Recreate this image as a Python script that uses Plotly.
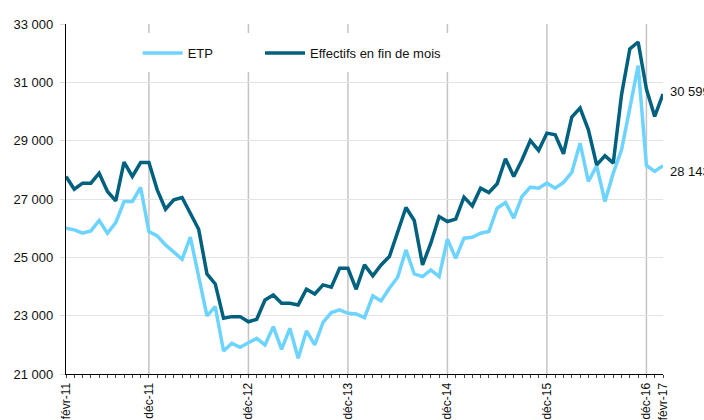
import plotly.graph_objects as go

# Monthly labels from févr-11 to févr-17
mois_fr = ["janv", "févr", "mars", "avr", "mai", "juin", "juil", "août", "sept", "oct", "nov", "déc"]
months = []
for yr in range(11, 18):
    for m in range(12):
        months.append(f"{mois_fr[m]}-{yr:02d}")
months = months[1:1 + 73]  # févr-11 .. févr-17

tick_labels = ["févr-11", "déc-11", "déc-12", "déc-13", "déc-14", "déc-15", "déc-16", "févr-17"]
grid_labels = ["déc-11", "déc-12", "déc-13", "déc-14", "déc-15", "déc-16"]

effectifs = [27772, 27337, 27543, 27543, 27886, 27257, 26937, 28264, 27772, 28250,
             28250, 27314, 26651, 26971, 27051, 26514, 25964, 24431, 24088, 22910,
             22967, 22967, 22790, 22876, 23539, 23711, 23425, 23425, 23368, 23905,
             23745, 24054, 23974, 24626, 24626, 23905, 24740, 24363, 24740, 25026,
             25827, 26708, 26262, 24740, 25484, 26399, 26228, 26308, 27063, 26765,
             27372, 27223, 27520, 28378, 27772, 28344, 29007, 28664, 29259, 29202,
             28550, 29808, 30117, 29374, 28172, 28481, 28230, 30575, 32142, 32382,
             30769, 29831, 30599]

etp = [25999, 25942, 25827, 25907, 26262, 25827, 26193, 26914, 26914, 27394,
       25884, 25736, 25427, 25175, 24935, 25690, 24340, 22990, 23310, 21789,
       22052, 21915, 22070, 22224, 21995, 22624, 21846, 22567, 21537, 22475,
       21995, 22773, 23104, 23196, 23082, 23060, 22933, 23676, 23505, 23940,
       24317, 25255, 24431, 24340, 24569, 24340, 25621, 24969, 25656, 25690,
       25827, 25884, 26685, 26880, 26342, 27086, 27406, 27372, 27543, 27372,
       27566, 27909, 28916, 27600, 28138, 26914, 27886, 28687, 30117, 31570,
       28149, 27944, 28143]

x = list(range(len(months)))
tickvals = [months.index(t) for t in tick_labels]

DARK = "#00617F"
LIGHT = "#6DD3FF"
FONT = "Liberation Sans, Arial, sans-serif"

fig = go.Figure()
fig.add_trace(go.Scatter(x=x, y=etp, mode="lines", name="ETP",
                         line=dict(color=LIGHT, width=3.5), legend="legend"))
fig.add_trace(go.Scatter(x=x, y=effectifs, mode="lines", name="Effectifs en fin de mois",
                         line=dict(color=DARK, width=3.5), legend="legend2"))

shapes = []
for g in grid_labels:
    xi = months.index(g)
    shapes.append(dict(type="line", xref="x", yref="paper", x0=xi, x1=xi, y0=0, y1=1,
                       line=dict(color="#c4c4c4", width=1.5), layer="below"))
shapes.append(dict(type="rect", xref="paper", yref="paper", x0=0.124, x1=0.66,
                   y0=0.863, y1=0.974, fillcolor="white", line=dict(width=0), layer="below"))

annotations = [
    dict(x=x[-1], y=effectifs[-1], xref="x", yref="y", text=f"{effectifs[-1]:,}".replace(",", " "),
         showarrow=False, xanchor="left", yanchor="middle", xshift=5, yshift=3,
         font=dict(family=FONT, size=13, color="#111")),
    dict(x=x[-1], y=etp[-1], xref="x", yref="y", text=f"{etp[-1]:,}".replace(",", " "),
         showarrow=False, xanchor="left", yanchor="middle", xshift=5, yshift=-6,
         font=dict(family=FONT, size=13, color="#111")),
]

fig.update_layout(
    width=704, height=420,
    margin=dict(l=66, r=41, t=24, b=46, autoexpand=False),
    paper_bgcolor="white", plot_bgcolor="white",
    separators=", ",
    font=dict(family=FONT, size=13, color="#111"),
    shapes=shapes,
    annotations=annotations,
    legend=dict(orientation="h", x=0.12, y=0.917, xanchor="left", yanchor="middle",
                bgcolor="rgba(0,0,0,0)", font=dict(family=FONT, size=13, color="#111"),
                itemwidth=40),
    legend2=dict(orientation="h", x=0.325, y=0.917, xanchor="left", yanchor="middle",
                 bgcolor="rgba(0,0,0,0)", font=dict(family=FONT, size=13, color="#111"),
                 itemwidth=40),
    showlegend=True,
)

fig.update_xaxes(
    range=[0, 72], tickmode="array", tickvals=tickvals, ticktext=tick_labels,
    tickangle=-90, tickfont=dict(family=FONT, size=12, color="#111"),
    showgrid=False, zeroline=False, automargin=False,
    showline=True, linecolor="black", linewidth=1.2,
    ticks="outside", ticklen=3, tickcolor="#444",
    minor=dict(ticks="outside", ticklen=3, tickcolor="#444", tick0=0, dtick=1),
)
fig.update_yaxes(
    range=[21000, 33000], tick0=21000, dtick=2000, tickformat=",d",
    tickfont=dict(family=FONT, size=13, color="#111"),
    showgrid=True, gridcolor="#e3e3e3", gridwidth=1, zeroline=False, automargin=False,
    showline=True, linecolor="black", linewidth=1.2,
    ticks="outside", ticklen=5, tickcolor="#d9d9d9", ticklabelstandoff=4,
)

fig.write_html("out.html", config={"displayModeBar": False},
               post_script="document.body.style.margin='0';")
